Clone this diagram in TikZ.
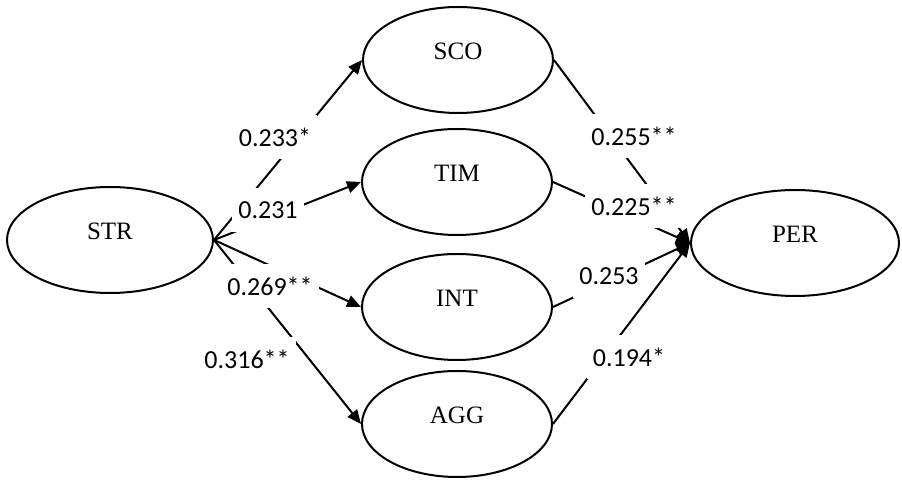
\documentclass[tikz,border=0pt]{standalone}
\usepackage{fontspec}
\newfontfamily\lblfont{Carlito}
\newfontfamily\namefont{Liberation Serif}
\usetikzlibrary{shapes.geometric,arrows.meta}
\begin{document}
\begin{tikzpicture}[x=0.5pt,y=-0.5pt,
  ell/.style={ellipse, draw, line width=1pt, minimum width=#1, minimum height=53pt, inner sep=0pt},
  ell/.default=95pt,
  nametxt/.style={font=\namefont\fontsize{12.5}{14}\selectfont, yshift=4.5pt},
  arr/.style={line width=1pt, -{Triangle[length=7pt,width=6pt]}},
  lbl/.style={fill=white, inner xsep=3pt, inner ysep=6.5pt, font=\lblfont\fontsize{13}{15}\selectfont}]
\useasboundingbox (0,0) rectangle (902,480);
% nodes
\node[ell=103pt, label={[nametxt]center:STR}] (STR) at (110,240) {};
\node[ell, label={[nametxt]center:SCO}] (SCO) at (458,60) {};
\node[ell, label={[nametxt]center:TIM}] (TIM) at (457,182) {};
\node[ell, label={[nametxt]center:INT}] (INT) at (457,307) {};
\node[ell, label={[nametxt]center:AGG}] (AGG) at (457,424) {};
\node[ell=104pt, label={[nametxt]center:PER}] (PER) at (795,243) {};
% connectors
\draw[arr] (STR.east) -- (SCO.west);
\draw[arr] (STR.east) -- (TIM.west);
\draw[arr] (STR.east) -- (INT.west);
\draw[arr] (STR.east) -- (AGG.west);
\draw[arr] (SCO.east) -- (PER.west);
\draw[arr] (TIM.east) -- (PER.west);
\draw[arr] (INT.east) -- (PER.west);
\draw[arr] (AGG.east) -- (PER.west);
% labels
\node[lbl] (l1) at (275,137) {0.233*};
\node[lbl] (l2) at (268,210) {0.231};
\node[lbl] (l3) at (270,286) {0.269**};
\node[lbl] (l4) at (247,359) {0.316**};
\node[lbl] (l5) at (634,136) {0.255**};
\node[lbl] (l6) at (634,206) {0.225**};
\node[lbl] (l7) at (609,276) {0.253};
\node[lbl] (l8) at (629,357) {0.194*};
\end{tikzpicture}
\end{document}
